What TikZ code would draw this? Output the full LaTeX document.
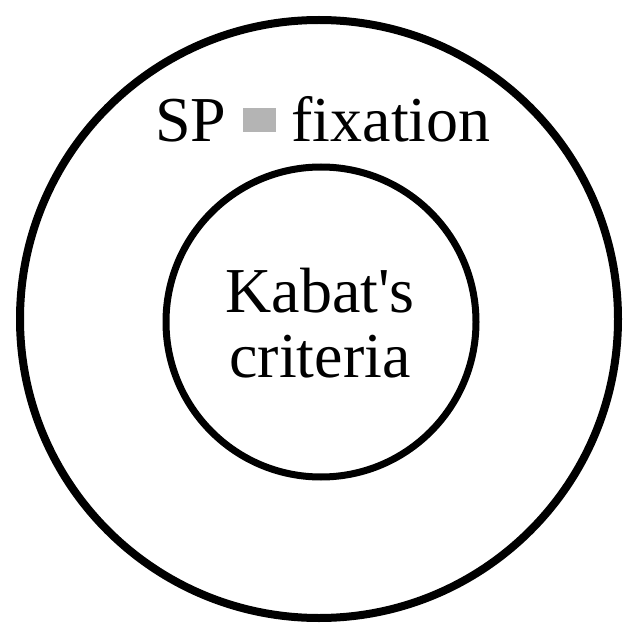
\documentclass[tikz,border=0pt]{standalone}
\usepackage{xcolor}
\usepackage{fontspec}
\setmainfont{Liberation Serif}
\usepackage{tikz}
\usetikzlibrary{shapes,positioning}

\definecolor{sqgray}{HTML}{B4B4B4}
\tikzset{
  ring/.style={draw=black, circle, inner sep=0pt, fill=none},
  label text/.style={font=\fontsize{64}{65}\selectfont, inner sep=0pt, align=center}
}

\begin{document}
\begin{tikzpicture}[x=1pt,y=-1pt]
    \useasboundingbox[fill=white] (0,0) rectangle (627,623);
    % the two sets
    \node[ring, line width=8pt, minimum size=598pt] (outer) at (319,319) {};
    \node[ring, line width=7pt, minimum size=310pt] (inner) at (321,322) {};
    % labels
    \node[label text, anchor=base] (sp) at (323,142)
      {SP {\color{sqgray}\rule[10pt]{33pt}{24pt}} fixation};
    \node[label text, anchor=base] (kabat) at (320,377) {Kabat\textquotesingle s\\criteria};
  \end{tikzpicture}
\end{document}
